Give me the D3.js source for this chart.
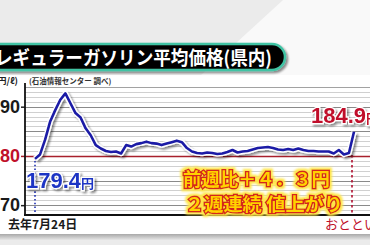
<!DOCTYPE html>
<html>
<head>
<meta charset="utf-8">
<script src="https://cdn.jsdelivr.net/npm/d3@7"></script>
<style>
  body { margin: 0; background: #ececec; overflow: hidden; }
  svg { display: block; }
</style>
</head>
<body>
<script>
let width = 370;
let height = 245;

// weekly average price (yen / litre), from last year's 7/24 to the day before yesterday
const prices = [179.4, 180.3, 183.3, 187.0, 189.3, 191.4, 192.7, 190.7, 188.7, 187.8,
	185.6, 184.2, 182.2, 181.5, 181.0, 180.8, 180.9, 180.5, 182.2, 181.9,
	182.4, 182.6, 182.9, 182.6, 182.5, 182.2, 182.5, 182.8, 183.1, 182.8,
	181.6, 180.9, 180.6, 180.5, 180.7, 180.6, 180.4, 180.5, 180.8, 181.2,
	180.7, 180.9, 181.0, 181.3, 181.6, 181.7, 181.8, 181.6, 181.3, 181.2,
	181.4, 181.2, 181.5, 181.2, 181.0, 181.0, 180.9, 180.9, 180.9, 180.5,
	181.2, 180.3, 180.6, 184.9];
const yTicks = [170, 180, 190];
const yTickLabels = ['70', '80', '90'];
const refLine = 180;
const startLabel = '去年7月24日';
const endLabel = 'おととい';
const title = 'レギュラーガソリン平均価格(県内)';
const unitLabel = '(円/ℓ)';
const sourceLabel = '(石油情報センター 調べ)';
const noteLines = ['前週比＋４．３円', '２週連続 値上がり'];

const jp = '"Noto Sans CJK JP", "Noto Sans", sans-serif';
const num = '"Liberation Sans", Arial, sans-serif';

let svg = d3.select('body').append('svg')
	.attr('width', width)
	.attr('height', height);

let defs = svg.append('defs');
let sh = defs.append('filter').attr('id', 'shadow').attr('x', '-10%').attr('y', '-10%').attr('width', '130%').attr('height', '140%');
sh.append('feGaussianBlur').attr('in', 'SourceAlpha').attr('stdDeviation', 1.2);
sh.append('feOffset').attr('dx', 1.5).attr('dy', 1.5).attr('result', 'b');
sh.append('feComponentTransfer').append('feFuncA').attr('type', 'linear').attr('slope', 0.45);
let m = sh.append('feMerge');
m.append('feMergeNode');
m.append('feMergeNode').attr('in', 'SourceGraphic');

// yellow halo round the note text
let glow = defs.append('filter').attr('id', 'glow').attr('x', '-10%').attr('y', '-30%').attr('width', '120%').attr('height', '160%');
glow.append('feMorphology').attr('in', 'SourceAlpha').attr('operator', 'dilate').attr('radius', 2.2).attr('result', 'd');
glow.append('feFlood').attr('flood-color', '#ffe64a');
glow.append('feComposite').attr('in2', 'd').attr('operator', 'in');
glow.append('feGaussianBlur').attr('stdDeviation', 1.3);
let gm = glow.append('feMerge');
gm.append('feMergeNode');
gm.append('feMergeNode').attr('in', 'SourceGraphic');

let bandGrad = defs.append('linearGradient').attr('id', 'band').attr('x1', 0).attr('x2', 0).attr('y1', 0).attr('y2', 1);
bandGrad.append('stop').attr('offset', '0%').attr('stop-color', '#a8a8a8');
bandGrad.append('stop').attr('offset', '100%').attr('stop-color', '#e6e6e6');

// background
svg.append('rect').attr('width', width).attr('height', height).style('fill', '#ebebeb');
svg.append('polygon')
	.attr('points', '283,0 370,0 370,76 200,76')
	.style('fill', '#f9f9f9');
svg.append('rect').attr('x', 0).attr('y', 75).attr('width', width).attr('height', 160).style('fill', '#ffffff');
svg.append('rect').attr('x', 0).attr('y', 234).attr('width', width).attr('height', 6).style('fill', 'url(#band)');

// scales
let x = d3.scaleLinear().domain([0, prices.length - 1]).range([35, 354]);
let y = d3.scaleLinear().domain([168, 194]).range([215, 87]);

// grid
let grid = d3.range(169, 195);
svg.append('g').selectAll('line')
	.data(grid)
	.join('line')
	.attr('x1', 25).attr('x2', width)
	.attr('y1', d => Math.round(y(d)) + 0.5).attr('y2', d => Math.round(y(d)) + 0.5)
	.style('stroke', d => d === refLine ? '#a8202c' : (d % 5 === 0 || d === 194 ? '#8a8a8a' : '#c4c4c4'))
	.style('stroke-width', d => d === refLine ? 1.6 : (d % 5 === 0 ? 1.2 : 0.8));

// axes
let axis = svg.append('g').attr('transform', 'translate(25,0)')
	.call(d3.axisLeft(y).tickValues(yTicks).tickSize(4).tickFormat((d, i) => yTickLabels[i]));
axis.select('.domain').remove();
axis.selectAll('line').style('stroke', d => d === refLine ? '#a8202c' : '#222').style('stroke-width', 1.5);
axis.selectAll('text')
	.attr('x', -5)
	.style('font-family', num)
	.style('font-weight', 'bold')
	.style('font-size', '18px')
	.style('fill', d => d === refLine ? '#c0102a' : '#1a1a1a');

svg.append('line').attr('x1', 25).attr('x2', 25).attr('y1', 83).attr('y2', 216)
	.style('stroke', '#111').style('stroke-width', 1.8);
svg.append('line').attr('x1', 24).attr('x2', width).attr('y1', 215).attr('y2', 215)
	.style('stroke', '#111').style('stroke-width', 1.8);

// dotted guides
let last = prices.length - 1;
svg.append('line')
	.attr('x1', x(0)).attr('x2', x(0)).attr('y1', y(prices[0]) + 2).attr('y2', 214)
	.style('stroke', '#2030b0').style('stroke-width', 1.6).style('stroke-dasharray', '1.6,2.2');
svg.append('line')
	.attr('x1', x(last) - 2).attr('x2', x(last) - 2).attr('y1', y(prices[last - 1]) + 2).attr('y2', 214)
	.style('stroke', '#b01030').style('stroke-width', 1.6).style('stroke-dasharray', '2.5,2.5');

// price line
let line = d3.line().x((d, i) => x(i)).y(d => y(d));
svg.append('path').datum(prices).attr('d', line)
	.attr('filter', 'url(#shadow)')
	.style('fill', 'none').style('stroke', '#ffffff').style('stroke-width', 5.5)
	.style('stroke-linejoin', 'round');
svg.append('path').datum(prices).attr('d', line)
	.style('fill', 'none').style('stroke', '#1b1ba6').style('stroke-width', 2.6)
	.style('stroke-linejoin', 'round');

// value labels
function valueLabel(px, py, value, color) {
	let t = svg.append('text')
		.attr('x', px).attr('y', py)
		.attr('filter', 'url(#shadow)')
		.style('fill', color)
		.style('stroke', '#ffffff').style('stroke-width', 2.5).style('paint-order', 'stroke')
		.style('font-weight', 'bold');
	t.append('tspan').text(value.toFixed(1))
		.style('font-family', num).style('font-size', '22px');
	t.append('tspan').text('円')
		.style('font-family', jp).style('font-size', '13px');
}
valueLabel(26, 188, prices[0], '#1f34c4');
valueLabel(311, 123, prices[last], '#c0102a');

// note
noteLines.forEach((s, i) => {
	let ty = 186 + i * 25;
	let tl = i === 0 ? 147 : 158;
	let tx = i === 0 ? 183 : 185;
	svg.append('text').attr('x', tx).attr('y', ty).text(s)
		.attr('textLength', tl).attr('lengthAdjust', 'spacingAndGlyphs')
		.attr('filter', 'url(#glow)')
		.style('font-family', jp).style('font-weight', 'bold').style('font-size', '18px')
		.style('fill', '#ffd200').style('stroke', '#d5281a').style('stroke-width', 2.8)
		.style('paint-order', 'stroke');
});

// bottom labels
svg.append('text').attr('x', 8).attr('y', 229).text(startLabel)
	.style('font-family', jp).style('font-weight', 'bold').style('font-size', '12px').style('fill', '#1a1a1a');
svg.append('text').attr('x', 325).attr('y', 229).text(endLabel)
	.style('font-family', jp).style('font-size', '13px').style('fill', '#c0102a');

// unit & source
svg.append('text').attr('x', -6).attr('y', 84).text(unitLabel)
	.style('font-family', jp).style('font-weight', 'bold').style('font-size', '9px').style('fill', '#222');
svg.append('text').attr('x', 29).attr('y', 84).text(sourceLabel)
	.style('font-family', jp).style('font-weight', 'bold').style('font-size', '7.5px').style('fill', '#333');

// title pill
svg.append('rect')
	.attr('x', -20).attr('y', 44).attr('width', 305).attr('height', 26).attr('rx', 13)
	.attr('filter', 'url(#shadow)')
	.style('fill', '#050505').style('stroke', '#3fc3a4').style('stroke-width', 2.5);
svg.append('text').attr('x', -5).attr('y', 65).text(title)
	.attr('textLength', 277).attr('lengthAdjust', 'spacingAndGlyphs')
	.style('font-family', jp).style('font-weight', 'bold').style('font-size', '19px').style('fill', '#ffffff');
</script>
</body>
</html>
